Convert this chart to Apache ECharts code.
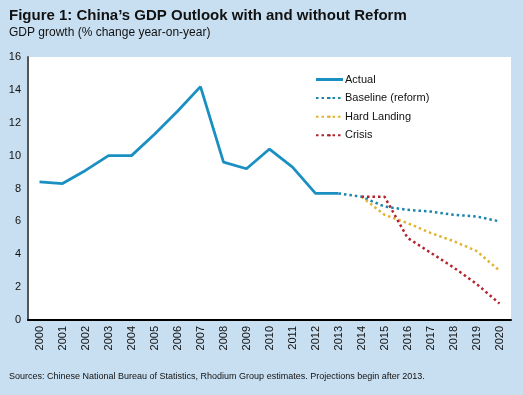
<!DOCTYPE html>
<html><head><meta charset="utf-8">
<script src="https://cdn.jsdelivr.net/npm/echarts@6/dist/echarts.min.js"></script>
<style>html,body{margin:0;padding:0;background:#c8dff1;}#c{width:523px;height:395px;}</style>
</head><body><div id="c"></div>
<script>
var years = ['2000','2001','2002','2003','2004','2005','2006','2007','2008','2009','2010','2011','2012','2013','2014','2015','2016','2017','2018','2019','2020'];
var actual = [8.4,8.3,9.1,10.0,10.0,11.3,12.7,14.2,9.6,9.2,10.4,9.3,7.7,7.7,null,null,null,null,null,null,null];
var baseline = [null,null,null,null,null,null,null,null,null,null,null,null,null,7.7,7.5,6.9,6.7,6.6,6.4,6.3,6.0];
var hardLanding = [null,null,null,null,null,null,null,null,null,null,null,null,null,null,7.5,6.4,5.9,5.3,4.8,4.2,3.0];
var crisis = [null,null,null,null,null,null,null,null,null,null,null,null,null,null,7.5,7.5,5.0,4.1,3.2,2.2,1.0];
var yTicks = [0,2,4,6,8,10,12,14,16];

var font = 'Liberation Sans';
var chart = echarts.init(document.getElementById('c'));
chart.setOption({
  backgroundColor: '#c8dff1',
  textStyle: {fontFamily: font},
  title: [
    {text: "Figure 1: China\u2019s GDP Outlook with and without Reform", left: 4, top: 3,
     textStyle: {fontFamily: font, fontWeight: 'bold', fontSize: 15, color: '#111'}},
    {text: 'GDP growth (% change year-on-year)', left: 4, top: 22,
     textStyle: {fontFamily: font, fontWeight: 'normal', fontSize: 12, color: '#111'}},
    {text: 'Sources: Chinese National Bureau of Statistics, Rhodium Group estimates. Projections begin after 2013.', left: 4, top: 367,
     textStyle: {fontFamily: font, fontWeight: 'normal', fontSize: 9, color: '#111'}}
  ],
  grid: {left: 28, right: 12, top: 57, bottom: 75, show: true, backgroundColor: '#fff', borderWidth: 0},
  legend: {
    orient: 'vertical', left: 310, top: 69, itemWidth: 27, itemHeight: 3, itemGap: 7.6,
    textStyle: {fontFamily: font, fontSize: 11, color: '#111', padding: [0, 0, 0, -3]},
    data: [{name: 'Actual', icon: 'rect'}, 'Baseline (reform)', 'Hard Landing', 'Crisis']
  },
  xAxis: {
    type: 'category', data: years, boundaryGap: true,
    axisLine: {lineStyle: {color: '#000', width: 2}},
    axisTick: {show: false},
    axisLabel: {rotate: 90, fontSize: 11, color: '#111', margin: 6, fontFamily: font}
  },
  yAxis: {
    type: 'value', min: 0, max: 16, interval: 2,
    axisLine: {show: true, lineStyle: {color: '#555', width: 2}},
    axisTick: {show: false},
    splitLine: {show: false},
    axisLabel: {fontSize: 11, color: '#111', margin: 7, fontFamily: font,
      formatter: function(v){ return yTicks.indexOf(v) >= 0 ? String(v) : ''; }}
  },
  series: [
    {name: 'Actual', type: 'line', data: actual, symbol: 'none', color: '#1a90c2',
     lineStyle: {width: 2.8, color: '#1a90c2'}},
    {name: 'Baseline (reform)', type: 'line', data: baseline, symbol: 'none', color: '#1a85ad',
     lineStyle: {width: 2.5, color: '#1a85ad', type: [2.5, 3]}},
    {name: 'Hard Landing', type: 'line', data: hardLanding, symbol: 'none', color: '#e2b331',
     lineStyle: {width: 2.5, color: '#e2b331', type: [2.5, 3]}},
    {name: 'Crisis', type: 'line', data: crisis, symbol: 'none', color: '#b3232d',
     lineStyle: {width: 2.5, color: '#b3232d', type: [2.5, 3]}}
  ]
});
</script></body></html>
